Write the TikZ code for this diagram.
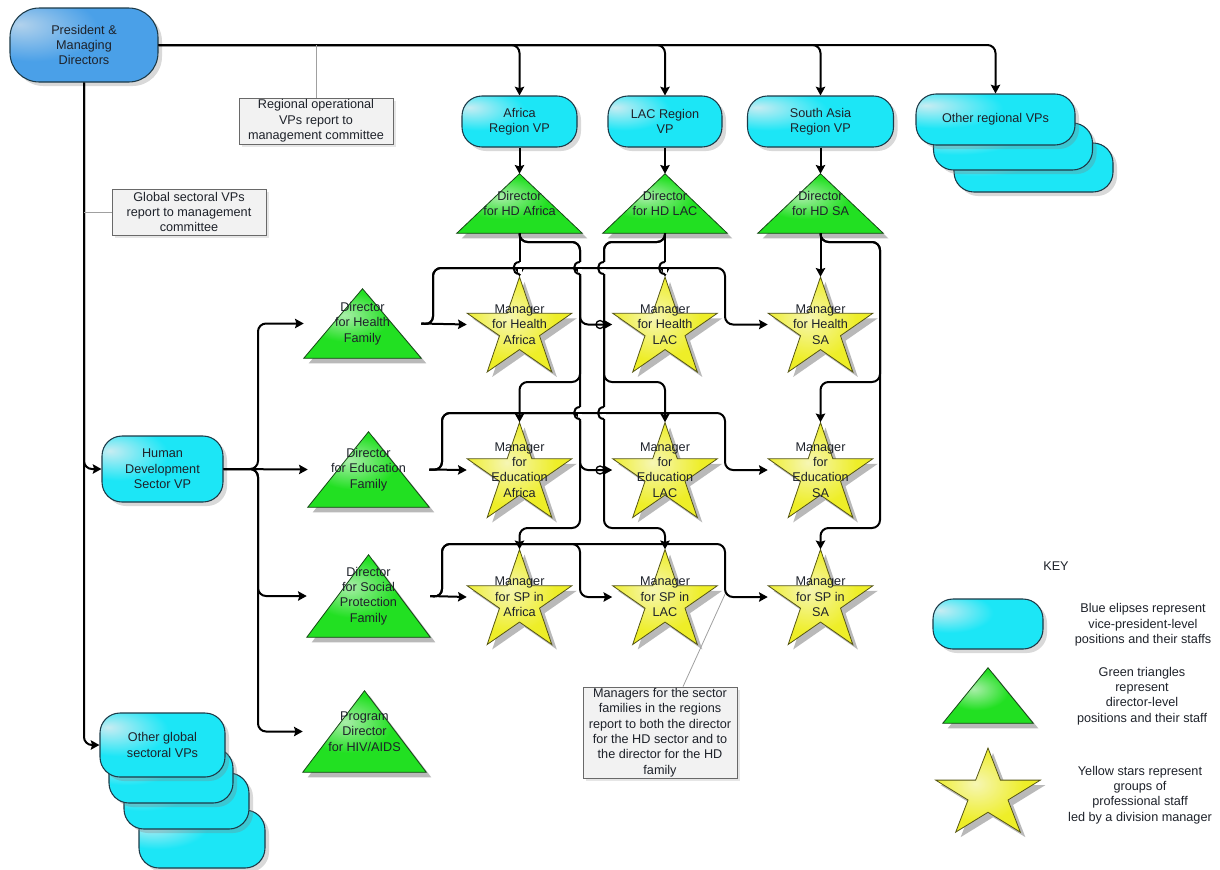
\documentclass[tikz,border=0pt]{standalone}
\usepackage{fontspec}
\setmainfont{Liberation Sans}
\usetikzlibrary{arrows.meta,calc,positioning,backgrounds,shadows}

\definecolor{vpcyan}{RGB}{28,230,246}
\definecolor{vplight}{RGB}{200,236,242}
\definecolor{presblue}{RGB}{74,160,232}
\definecolor{preslight}{RGB}{178,210,236}
\definecolor{vpedge}{RGB}{28,58,72}
\definecolor{dirgreen}{RGB}{34,224,34}
\definecolor{dirlight}{RGB}{170,238,170}
\definecolor{diredge}{RGB}{22,70,22}
\definecolor{mgryellow}{RGB}{238,238,40}
\definecolor{mgrlight}{RGB}{246,246,180}
\definecolor{mgredge}{RGB}{85,85,20}
\definecolor{notefill}{RGB}{242,242,242}
\definecolor{noteedge}{RGB}{105,105,105}
\definecolor{notegray}{RGB}{160,160,160}
\definecolor{shadowgray}{RGB}{185,185,185}
\definecolor{txtgray}{RGB}{30,34,42}

\pgfdeclareradialshading{vpshade}{\pgfpoint{-22bp}{14bp}}{color(0bp)=(vplight); color(20bp)=(vpcyan); color(100bp)=(vpcyan)}
\pgfdeclareradialshading{presshade}{\pgfpoint{-22bp}{14bp}}{color(0bp)=(preslight); color(22bp)=(presblue); color(100bp)=(presblue)}
\pgfdeclareradialshading{dirshade}{\pgfpoint{-8bp}{6bp}}{color(0bp)=(dirlight); color(18bp)=(dirgreen); color(100bp)=(dirgreen)}
\pgfdeclareradialshading{mgrshade}{\pgfpoint{-6bp}{4bp}}{color(0bp)=(mgrlight); color(22bp)=(mgryellow); color(100bp)=(mgryellow)}

\tikzset{
  every node/.style={font=\fontsize{9.5}{11.5}\selectfont, text=txtgray},
  vpbox/.style={draw=vpedge, line width=0.8pt, rounded corners=15pt,
    shading=vpshade, shade, align=center, inner sep=0pt,
    drop shadow={shadow xshift=3pt, shadow yshift=-3pt, opacity=.3}},
  presbox/.style={vpbox, rounded corners=22pt, shading=presshade},
  dirbox/.style={align=center, inner sep=0pt},
  mgrbox/.style={align=center, inner sep=0pt, minimum width=78.75pt, minimum height=71.25pt},
  dirtri/.style={draw=diredge, line width=0.6pt, shading=dirshade, shade},
  mgrstar/.style={draw=mgredge, line width=0.6pt, shading=mgrshade, shade},
  shadowfill/.style={fill=shadowgray},
  notebox/.style={draw=noteedge, fill=notefill, line width=0.6pt, align=center,
    inner sep=0pt, minimum width=115.5pt,
    drop shadow={shadow xshift=2pt, shadow yshift=-2pt, opacity=.2}},
  wire/.style={line width=1.5pt, black},
  conn/.style={wire, rounded corners=6pt},
  arr/.style={-{Stealth[length=6.5pt,width=7pt,inset=1pt]}},
  noteline/.style={draw=notegray, line width=0.6pt},
}

\begin{document}
\begin{tikzpicture}[x=0.75pt,y=-0.75pt]
  \useasboundingbox (0,0) rectangle (1220,869);

  % vice-president level
  \node[presbox, minimum width=111pt, minimum height=55.5pt] (pres) at (84,45) {President \&\\Managing\\Directors};
  \node[vpbox, minimum width=86.25pt, minimum height=38.25pt] (afr) at (519.5,121.5) {Africa\\Region VP};
  \node[vpbox, minimum width=85.5pt, minimum height=38.25pt] (lac) at (665,121.5) {LAC Region\\VP};
  \node[vpbox, minimum width=109.5pt, minimum height=38.25pt] (sa) at (820.5,121.5) {South Asia\\Region VP};
  \node[vpbox, minimum width=119.25pt, minimum height=36.75pt] (oreg3) at (1033.5,167.5) {};
  \node[vpbox, minimum width=119.25pt, minimum height=35.25pt] (oreg2) at (1013,146.5) {};
  \node[vpbox, minimum width=119.25pt, minimum height=38.25pt] (oreg) at (995.5,119.5) {Other regional VPs};
  \node[vpbox, minimum width=90.75pt, minimum height=49.5pt] (hdvp) at (162.5,469) {Human\\Development\\Sector VP};
  \node[vpbox, minimum width=94.5pt, minimum height=43.5pt] (oglob4) at (202,839) {};
  \node[vpbox, minimum width=93.75pt, minimum height=42pt] (oglob3) at (186.5,801) {};
  \node[vpbox, minimum width=93pt, minimum height=41.25pt] (oglob2) at (171,775.5) {};
  \node[vpbox, minimum width=93.75pt, minimum height=48pt] (oglob) at (162.5,745) {Other global\\sectoral VPs};

  % director level
  \node[dirbox, minimum width=93.75pt, minimum height=44.25pt] (dAf) at (519.5,203.5) {Director\\for HD Africa};
  \node[dirbox, minimum width=93pt, minimum height=44.25pt] (dLac) at (665,203.5) {Director\\for HD LAC};
  \node[dirbox, minimum width=93.75pt, minimum height=44.25pt] (dSa) at (820.5,203.5) {Director\\for HD SA};
  \node[dirbox, minimum width=87.75pt, minimum height=51.75pt] (dHf) at (362.5,323.5) {Director\\for Health\\Family};
  \node[dirbox, minimum width=90.75pt, minimum height=56.25pt] (dEf) at (368.5,469.5) {Director\\for Education\\Family};
  \node[dirbox, minimum width=92.25pt, minimum height=61.5pt] (dSPf) at (368.5,596) {Director\\for Social\\Protection\\Family};
  \node[dirbox, minimum width=92.25pt, minimum height=60.75pt] (dPr) at (364.5,731.5) {Program\\Director\\for HIV/AIDS};

  % division managers
  \node[mgrbox] (hAf) at (519.5,324.5) {Manager\\for Health\\Africa};
  \node[mgrbox] (hLac) at (665,324.5) {Manager\\for Health\\LAC};
  \node[mgrbox] (hSa) at (820.5,324.5) {Manager\\for Health\\SA};
  \node[mgrbox] (eAf) at (519.5,470) {Manager\\for\\Education\\Africa};
  \node[mgrbox] (eLac) at (665,470) {Manager\\for\\Education\\LAC};
  \node[mgrbox] (eSa) at (820.5,470) {Manager\\for\\Education\\SA};
  \node[mgrbox] (sAf) at (519.5,597) {Manager\\for SP in\\Africa};
  \node[mgrbox] (sLac) at (665,597) {Manager\\for SP in\\LAC};
  \node[mgrbox] (sSa) at (820.5,597) {Manager\\for SP in\\SA};

  % notes
  \node[notebox, minimum height=34.5pt] (regnote) at (316,121) {Regional operational\\VPs report to\\management committee};
  \node[notebox, minimum height=34.5pt] (glonote) at (189,212) {Global sectoral VPs\\report to management\\committee};
  \node[notebox, minimum height=68.25pt] (mgrnote) at (660,732.5) {Managers for the sector\\families in the regions\\report to both the director\\for the HD sector and to\\the director for the HD\\family};
  \coordinate (mgrpt) at (726,592);

  % key
  \node (keyT) at (1056,566) {KEY};
  \node[vpbox, minimum width=82.5pt, minimum height=37.5pt] (keyVp) at (988,624) {};
  \node[dirbox, minimum width=67.5pt, minimum height=41.25pt] (keyDir) at (988,695.5) {};
  \node[mgrbox, minimum height=63pt] (keyMgr) at (988,790) {};
  \node[align=center] (keyVpT) at (1143,625) {Blue elipses represent\\vice-president-level\\positions and their staffs};
  \node[align=center] (keyDirT) at (1142,696) {Green triangles\\represent\\director-level\\positions and their staff};
  \node[align=center] (keyMgrT) at (1140,795) {Yellow stars represent\\groups of\\professional staff\\led by a division manager};

  % triangles and stars behind the texts
  \begin{pgfonlayer}{background}
    \foreach \n in {dAf,dLac,dSa,dHf,dEf,dSPf,dPr,keyDir}{
      \fill[shadowfill] ([shift={(5,5)}]\n.south west) -- ([shift={(5,5)}]\n.north) -- ([shift={(5,5)}]\n.south east) -- cycle;
      \path[dirtri] (\n.south west) -- (\n.north) -- (\n.south east) -- cycle;
    }
    \foreach \n/\ry/\dy in {hAf/52.5/5,hLac/52.5/5,hSa/52.5/5,eAf/52.5/5,eLac/52.5/5,eSa/52.5/5,sAf/52.5/5,sLac/52.5/5,sSa/52.5/5,keyMgr/46.5/4.5}{
      \fill[shadowfill, shift={($(\n.center)+(5,\dy+5)$)}]
        plot[samples at={0,...,9}, variable=\k]
        ({55*(1-0.618*mod(\k,2))*cos(90+36*\k)}, {-\ry*(1-0.618*mod(\k,2))*sin(90+36*\k)}) -- cycle;
      \path[mgrstar, shift={($(\n.center)+(0,\dy)$)}]
        plot[samples at={0,...,9}, variable=\k]
        ({55*(1-0.618*mod(\k,2))*cos(90+36*\k)}, {-\ry*(1-0.618*mod(\k,2))*sin(90+36*\k)}) -- cycle;
    }
  \end{pgfonlayer}

  % reporting lines
  \draw[conn,arr] (pres.east) -| (afr.north);
  \draw[conn,arr] (pres.east) -| (lac.north);
  \draw[conn,arr] (pres.east) -| (sa.north);
  \draw[conn,arr] (pres.east) -| (oreg.north);
  \draw[conn,arr] (pres.south) |- (hdvp.west);
  \draw[conn,arr] (pres.south) |- (oglob.west);
  \draw[noteline] (regnote.north) -- (regnote.north |- pres.east);
  \draw[noteline] (glonote.west) -- (glonote.west -| pres.south);
  \draw[noteline] ([xshift=17.25pt]mgrnote.north) -- (mgrpt);

  \foreach \a/\b in {afr/dAf,lac/dLac,sa/dSa}
    \draw[wire,arr] (\a.south) -- (\b.north);

  \draw[conn,arr] (hdvp.east) -- (258,469) |- (dHf.west);
  \draw[wire,arr] (hdvp.east) -- (dEf.west);
  \draw[conn,arr] (hdvp.east) -- (258,469) |- (dSPf.west);
  \draw[conn,arr] (hdvp.east) -- (258,469) |- (dPr.west);

  % sector directors down to the managers
  \foreach \d/\x/\c in {dAf/580/Af,dLac/604/Lac,dSa/880/Sa}{
    \draw[wire,arr] (\d.south) -- (h\c.north);
    \draw[conn,arr] (\d.south) |- (\x,242) -- (\x,382) -| (e\c.north);
    \draw[conn,arr] (\d.south) |- (\x,242) -- (\x,528) -| (s\c.north);
  }

  % family directors across to the managers
  \foreach \f/\rw/\xj/\ya/\yb in {dHf/h/433/268/324.5,dEf/e/442/413/470,dSPf/s/442/544/597}{
    \draw[wire,arr] (\f.east) -- (\rw Af.west);
    \draw[conn,arr] (\f.east) -- (\xj,\yb) |- (725,\ya) |- (\rw Sa.west);
    \draw[conn,arr] (\f.east) -- (\xj,\yb) |- (580,\ya) |- (\rw Lac.west);
  }

  % line hops
  \foreach \x/\y in {519.5/268,580/268,604/268,665/268,580/413,604/413}{
    \fill[white] (\x-2,\y-6) rectangle (\x+2,\y+6);
    \draw[wire] (\x-3,\y) -- (\x+3,\y);
    \draw[wire] (\x,\y-6) .. controls (\x-8,\y-6) and (\x-8,\y+6) .. (\x,\y+6);
  }
  \foreach \x/\y in {600/324.5,600/470}
    \draw[wire, line width=1pt] (\x,\y) circle[radius=3pt];
\end{tikzpicture}
\end{document}
